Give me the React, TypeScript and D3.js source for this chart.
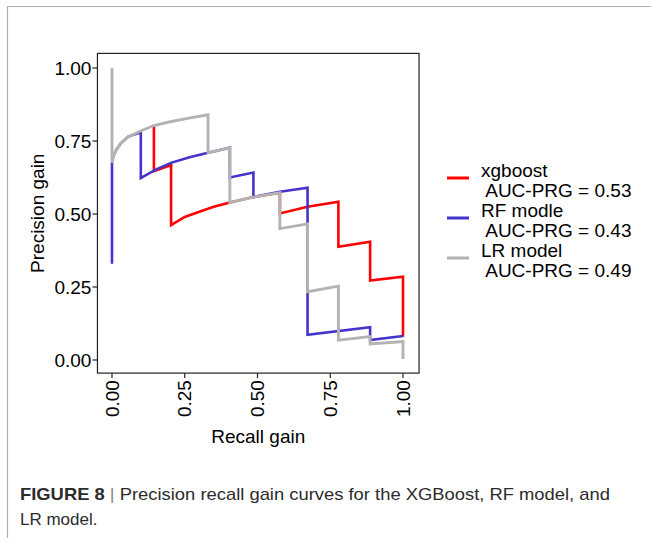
import React from "react";
import * as d3 from "d3";

// Precision–recall gain curves, one series per model
const xgboostRecall = [0.144, 0.144, 0.203, 0.203, 0.25, 0.3, 0.35, 0.405, 0.486, 0.577, 0.577, 0.672, 0.778, 0.778, 0.887, 0.887, 1.0, 1.0];
const xgboostPrecision = [0.8, 0.647, 0.668, 0.462, 0.49, 0.508, 0.525, 0.539, 0.558, 0.573, 0.502, 0.525, 0.542, 0.388, 0.405, 0.272, 0.285, 0.08];

const rfRecall = [0, 0, 0.005, 0.015, 0.03, 0.056, 0.099, 0.099, 0.15, 0.205, 0.27, 0.33, 0.405, 0.405, 0.486, 0.486, 0.577, 0.672, 0.672, 0.887, 0.887, 1.0];
const rfPrecision = [0.33, 0.675, 0.7, 0.72, 0.742, 0.765, 0.78, 0.623, 0.652, 0.676, 0.695, 0.71, 0.727, 0.625, 0.642, 0.558, 0.576, 0.59, 0.086, 0.112, 0.068, 0.082];

const lrRecall = [0, 0, 0.005, 0.015, 0.03, 0.056, 0.1, 0.144, 0.2, 0.25, 0.33, 0.33, 0.405, 0.405, 0.45, 0.486, 0.577, 0.577, 0.672, 0.672, 0.778, 0.778, 0.887, 0.887, 1.0, 1.0];
const lrPrecision = [1.0, 0.675, 0.7, 0.72, 0.742, 0.765, 0.785, 0.803, 0.816, 0.826, 0.84, 0.71, 0.727, 0.539, 0.55, 0.558, 0.573, 0.45, 0.466, 0.234, 0.253, 0.068, 0.08, 0.055, 0.063, 0.003];

const seriesNames = ["xgboost", "RF modle", "LR model"];
const aucLabels = ["AUC-PRG = 0.53", "AUC-PRG = 0.43", "AUC-PRG = 0.49"];
const seriesColors = ["#ff0000", "#4433cc", "#b3b3b3"];
const seriesWidths = [2.6, 2.6, 2.9];

const xTicks = [0, 0.25, 0.5, 0.75, 1.0];
const yTicks = [0, 0.25, 0.5, 0.75, 1.0];

const FONT = "'Liberation Sans', Arial, sans-serif";

export default function App() {
  const x = d3.scaleLinear().domain([0, 1]).range([112, 403]);
  const y = d3.scaleLinear().domain([0, 1]).range([360, 68]);
  const left = x(-0.05), right = x(1.05) + 1.5, top = y(1.05), bottom = y(-0.05) - 1.5;

  const series = [
    { r: xgboostRecall, p: xgboostPrecision },
    { r: rfRecall, p: rfPrecision },
    { r: lrRecall, p: lrPrecision },
  ];
  const line = d3
    .line<[number, number]>()
    .x((d) => x(d[0]))
    .y((d) => y(d[1]));

  const fmt = d3.format(".2f");

  return (
    <svg
      width={651}
      height={538}
      style={{ position: "absolute", left: 0, top: 0, background: "#fff" }}
      fontFamily={FONT}
    >
      {/* outer frame */}
      <path d="M7.5,538 V6.5 H651" fill="none" stroke="#b0b0b0" strokeWidth={1.2} />

      {/* curves */}
      {series.map((s, i) => (
        <path
          key={i}
          d={line(s.r.map((v, j) => [v, s.p[j]] as [number, number])) || ""}
          fill="none"
          stroke={seriesColors[i]}
          strokeWidth={seriesWidths[i]}
          strokeLinejoin="miter"
        />
      ))}

      {/* panel border */}
      <rect x={left} y={top} width={right - left} height={bottom - top} fill="none" stroke="#222" strokeWidth={1.2} />

      {/* y axis */}
      {yTicks.map((t) => (
        <g key={"y" + t}>
          <line x1={left - 5} x2={left} y1={y(t)} y2={y(t)} stroke="#222" strokeWidth={1.2} />
          <text x={left - 6} y={y(t)} dy="0.35em" textAnchor="end" fontSize={19} fill="#000">
            {fmt(t)}
          </text>
        </g>
      ))}

      {/* x axis */}
      {xTicks.map((t) => (
        <g key={"x" + t}>
          <line x1={x(t)} x2={x(t)} y1={bottom} y2={bottom + 5} stroke="#222" strokeWidth={1.2} />
          <text
            transform={`translate(${x(t)},${bottom + 7}) rotate(-90)`}
            dy="0.35em"
            textAnchor="end"
            fontSize={19}
            fill="#000"
          >
            {fmt(t)}
          </text>
        </g>
      ))}

      <text x={(left + right) / 2} y={443} textAnchor="middle" fontSize={19} fill="#000">
        Recall gain
      </text>
      <text transform={`translate(44,${(top + bottom) / 2}) rotate(-90)`} textAnchor="middle" fontSize={19} fill="#000">
        Precision gain
      </text>

      {/* legend */}
      {seriesNames.map((n, i) => {
        const cy = 178 + i * 40;
        return (
          <g key={n}>
            <line x1={447} x2={469} y1={cy} y2={cy} stroke={seriesColors[i]} strokeWidth={3} />
            <text x={481} y={cy - 8} dy="0.35em" fontSize={19} fill="#000">
              {n}
            </text>
            <text x={481} y={cy + 12} dy="0.35em" fontSize={19} fill="#000" xmlSpace="preserve">
              {" " + aucLabels[i]}
            </text>
          </g>
        );
      })}

      {/* caption */}
      <text x={20} y={500} fontSize={17} fill="#2b2b2b" textLength={590} lengthAdjust="spacingAndGlyphs">
        <tspan fontWeight="bold">FIGURE 8</tspan>
        <tspan fill="#888"> | </tspan>
        <tspan>Precision recall gain curves for the XGBoost, RF model, and</tspan>
      </text>
      <text x={20} y={525} fontSize={17} fill="#2b2b2b">
        LR model.
      </text>
    </svg>
  );
}
